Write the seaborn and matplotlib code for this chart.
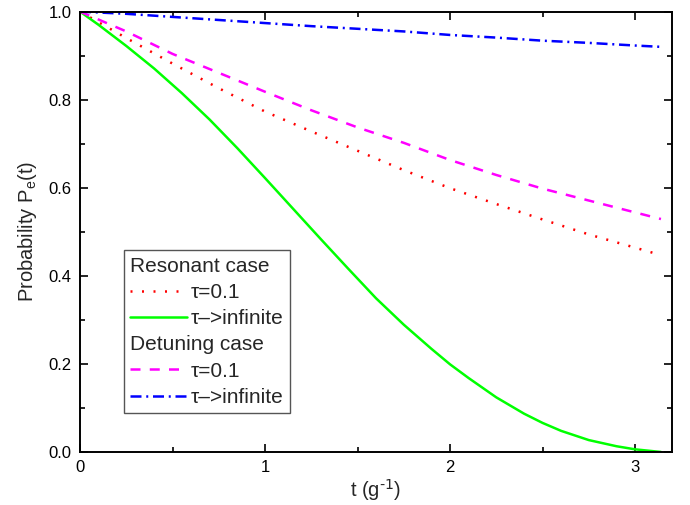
import numpy as np
import pandas as pd
import matplotlib
matplotlib.use("Agg")
import matplotlib.pyplot as plt
from matplotlib.lines import Line2D
from matplotlib.ticker import MultipleLocator, FormatStrFormatter
import seaborn as sns

# dados
t = [0, 0.25, 0.5, 0.75, 1.0, 1.25, 1.5, 1.75, 2.0, 2.25, 2.5, 2.75, 3.0, 3.14]
res_tau01 = [1.0, 0.940, 0.882, 0.826, 0.773, 0.728, 0.684, 0.640, 0.599,
             0.563, 0.528, 0.494, 0.464, 0.447]
det_tau01 = [1.0, 0.955, 0.904, 0.861, 0.818, 0.776, 0.737, 0.702, 0.663,
             0.629, 0.598, 0.571, 0.544, 0.529]
det_inf = [1.0, 0.995, 0.988, 0.981, 0.974, 0.967, 0.961, 0.955, 0.947,
           0.941, 0.934, 0.929, 0.923, 0.920]

# curva verde com mais pontos (mais curvatura)
t_green = [0, 0.1, 0.25, 0.4, 0.55, 0.7, 0.85, 1.0, 1.15, 1.3, 1.45, 1.6,
           1.75, 1.9, 2.0, 2.1, 2.25, 2.4, 2.5, 2.6, 2.75, 2.9, 3.0, 3.14]
res_inf = [1.0, 0.970, 0.922, 0.871, 0.815, 0.755, 0.690, 0.622, 0.553,
           0.484, 0.416, 0.349, 0.289, 0.234, 0.199, 0.168, 0.124, 0.087,
           0.066, 0.048, 0.027, 0.013, 0.006, 0.0]

labels = ["Resonant case", "\u03c4=0.1", "\u03c4\u2013>infinite",
          "Detuning case", "\u03c4=0.1", "\u03c4\u2013>infinite"]

sns.set_style("ticks")
plt.rcParams['font.family'] = ['Liberation Sans', 'DejaVu Sans']
plt.rcParams['mathtext.default'] = 'regular'

fig = plt.figure(figsize=(6.9, 5.05), dpi=100)
ax = fig.add_axes([0.116, 0.105, 0.858, 0.872])

lw = 1.8
sns.lineplot(x=t, y=res_tau01, ax=ax, color='#ff0000', lw=lw,
             linestyle=(0, (0.8, 3.8)), legend=False)
sns.lineplot(x=t_green, y=res_inf, ax=ax, color='#00ff00', lw=lw, legend=False)
sns.lineplot(x=t, y=det_tau01, ax=ax, color='#ff00ff', lw=lw,
             linestyle=(0, (4, 3.7)), legend=False)
sns.lineplot(x=t, y=det_inf, ax=ax, color='#0000ff', lw=lw,
             linestyle=(0, (4.4, 1.9, 0.8, 1.9)), legend=False)

ax.set_xlim(0, 3.2)
ax.set_ylim(0, 1.0)
ax.xaxis.set_major_locator(MultipleLocator(1))
ax.xaxis.set_minor_locator(MultipleLocator(0.5))
ax.yaxis.set_major_locator(MultipleLocator(0.2))
ax.yaxis.set_minor_locator(MultipleLocator(0.1))
ax.yaxis.set_major_formatter(FormatStrFormatter('%.1f'))
ax.tick_params(which='both', direction='in', top=True, right=True,
               width=1.2, labelsize=12, pad=6, colors='black')
ax.tick_params(which='major', length=6)
ax.tick_params(which='minor', length=3.5)
for s in ax.spines.values():
    s.set_linewidth(1.4)
    s.set_color('black')

ax.set_xlabel("t (g$^{\\text{-1}}$)", fontsize=14.5, labelpad=1)
ax.set_ylabel("Probability P$_e$(t)", fontsize=14.5, labelpad=7)

# legenda com cabecalhos
lines = ax.get_lines()
blank = Line2D([], [], linestyle='none')
handles = [blank, lines[0], lines[1], blank, lines[2], lines[3]]
leg = ax.legend(handles, labels, loc='upper left', bbox_to_anchor=(0.074, 0.458),
                borderaxespad=0, fontsize=15, handlelength=2.75,
                handletextpad=0.15, labelspacing=0.35, borderpad=0.3,
                fancybox=False, framealpha=1, edgecolor='#555555')
leg.get_frame().set_linewidth(1.0)
rows = leg._legend_handle_box.get_children()[0].get_children()
for i in (0, 3):
    rows[i].get_children()[0].width = 0
    rows[i].sep = 0

plt.savefig("out.png", dpi=100)
